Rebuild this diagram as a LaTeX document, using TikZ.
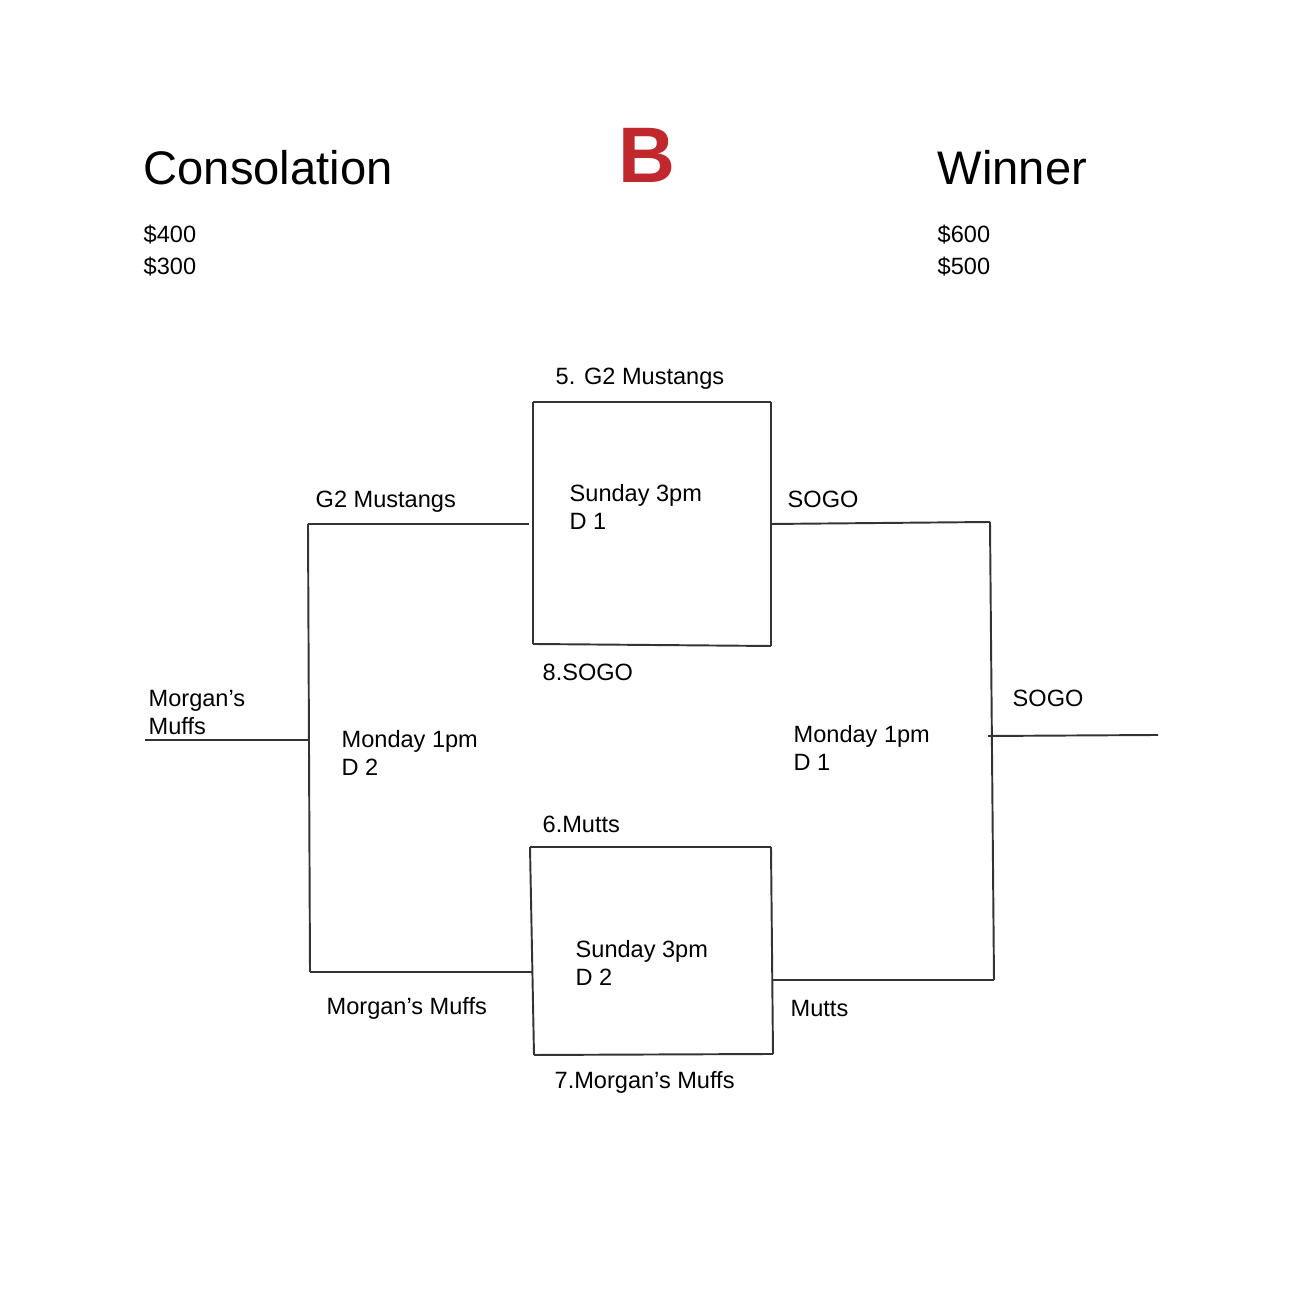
\documentclass[tikz,border=0pt]{standalone}
\usepackage{fontspec}
\setmainfont{Liberation Sans}
\definecolor{bred}{HTML}{C0282D}
\begin{document}
\begin{tikzpicture}[x=0.01cm,y=-0.01cm]
	\tikzstyle{edge}=[draw,line width=.55pt,-,black!80]
	\tikzstyle{label}=[anchor=base west,inner sep=0pt,font=\fontsize{6.7}{8}\selectfont]
	\tikzstyle{title}=[anchor=base west,inner sep=0pt,font=\fontsize{13.4}{16}\selectfont]
	\useasboundingbox (0,0) rectangle (1308,1292);
	% headings
	\node[title] (cons) at (143,185) {Consolation};
	\node[title] (win) at (937,185) {Winner};
	\node[anchor=base west,inner sep=0pt,font=\fontsize{22.4}{24}\selectfont\bfseries,text=bred] (bb) at (618,183) {B};
	\node[label] (c1) at (143,243) {\$400};
	\node[label] (c2) at (143,275) {\$300};
	\node[label] (w1) at (937,243) {\$600};
	\node[label] (w2) at (937,275) {\$500};
	% corners
	\coordinate (atl) at (533,402);
	\coordinate (atr) at (771,402);
	\coordinate (abl) at (533,644);
	\coordinate (abr) at (771,646);
	\coordinate (btl) at (530,847);
	\coordinate (btr) at (771,847);
	\coordinate (bbl) at (534,1055);
	\coordinate (bbr) at (773,1054);
	\coordinate (lt) at (308,524);
	\coordinate (lm) at (308,740);
	\coordinate (lb) at (310,972);
	\coordinate (in) at (145,740);
	\coordinate (ain) at (529,524);
	\coordinate (bin) at (533,972);
	\coordinate (aout) at (771,524);
	\coordinate (bout) at (772,980);
	\coordinate (rt) at (990,522);
	\coordinate (rm) at (988,736);
	\coordinate (rb) at (994,980);
	\coordinate (out) at (1158,735);
	% boxes
	\draw[edge] (atl) -- (atr);
	\draw[edge] (atl) -- (abl);
	\draw[edge] (abl) -- (abr);
	\draw[edge] (atr) -- (abr);
	\draw[edge] (btl) -- (btr);
	\draw[edge] (btl) -- (bbl);
	\draw[edge] (bbl) -- (bbr);
	\draw[edge] (btr) -- (bbr);
	% left bracket
	\draw[edge] (lt) -- (ain);
	\draw[edge] (lt) -- (lb);
	\draw[edge] (lb) -- (bin);
	\draw[edge] (in) -- (lm);
	% right bracket
	\draw[edge] (aout) -- (rt);
	\draw[edge] (rt) -- (rb);
	\draw[edge] (bout) -- (rb);
	\draw[edge] (rm) -- (out);
	% labels
	\node[label] (g5) at (555,385) {5. G2 Mustangs};
	\node[label] (g2) at (315,508) {G2 Mustangs};
	\node[label] (sa) at (569,502) {Sunday 3pm};
	\node[label] (da) at (569,530) {D 1};
	\node[label] (sogoa) at (787,508) {SOGO};
	\node[label] (s8) at (542,681) {8.SOGO};
	\node[label] (mm1) at (148,707) {Morgan’s};
	\node[label] (mm2) at (148,735) {Muffs};
	\node[label] (ml) at (341,748) {Monday 1pm};
	\node[label] (dl) at (341,776) {D 2};
	\node[label] (mr) at (793,743) {Monday 1pm};
	\node[label] (dr) at (793,771) {D 1};
	\node[label] (sogor) at (1012,707) {SOGO};
	\node[label] (m6) at (542,833) {6.Mutts};
	\node[label] (sb) at (575,958) {Sunday 3pm};
	\node[label] (db) at (575,986) {D 2};
	\node[label] (mmb) at (326,1015) {Morgan’s Muffs};
	\node[label] (mutts) at (790,1017) {Mutts};
	\node[label] (m7) at (554,1089) {7.Morgan’s Muffs};
\end{tikzpicture}
\end{document}
